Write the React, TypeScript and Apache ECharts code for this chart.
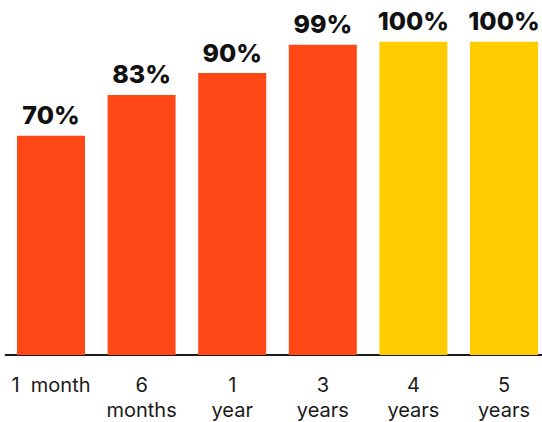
import React, { useEffect, useRef } from "react";
import * as echarts from "echarts";

const categories = ["1  month", "6\nmonths", "1\nyear", "3\nyears", "4\nyears", "5\nyears"];
const values = [70, 83, 90, 99, 100, 100];
const barColors = ["#FF4816", "#FF4816", "#FF4816", "#FF4816", "#FFCC00", "#FFCC00"];

export default function App() {
  const ref = useRef<HTMLDivElement>(null);
  useEffect(() => {
    if (!ref.current) return;
    const chart = echarts.init(ref.current, null, { renderer: "svg" });
    chart.setOption({
      animation: false,
      grid: { left: 5.7, width: 543.6, top: 41.7, bottom: 67, outerBoundsMode: "none", containLabel: false },
      xAxis: {
        type: "category",
        data: categories,
        axisLine: { lineStyle: { color: "#1a1a1a", width: 2 } },
        axisTick: { show: false },
        axisLabel: {
          color: "#1a1a1a",
          fontFamily: "Inter, 'Open Sans', sans-serif",
          fontSize: 20,
          lineHeight: 25,
          margin: 17,
          interval: 0,
        },
      },
      yAxis: {
        type: "value",
        min: 0,
        max: 100,
        show: false,
      },
      series: [
        {
          type: "bar",
          barWidth: 68,
          data: values.map((v, i) => ({ value: v, itemStyle: { color: barColors[i] } })),
          label: {
            show: true,
            position: "top",
            distance: 8,
            formatter: "{c}%",
            color: "#111",
            fontFamily: "Inter, 'Open Sans', sans-serif",
            fontWeight: 800,
            fontSize: 25,
          },
        },
      ],
    });
    return () => chart.dispose();
  }, []);
  return <div ref={ref} style={{ width: 542, height: 422, position: "absolute", left: 0, top: 0 }} />;
}
